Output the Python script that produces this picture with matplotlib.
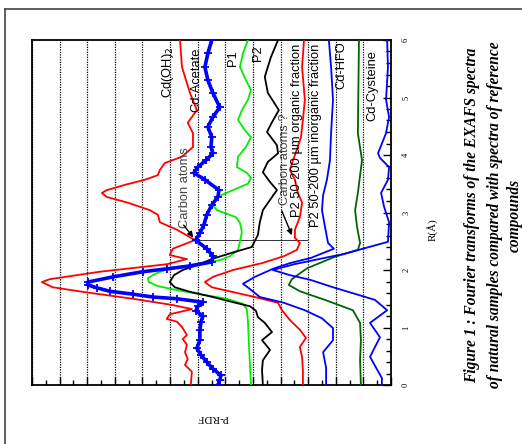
import matplotlib
matplotlib.use("Agg")
import matplotlib.pyplot as plt
from matplotlib.lines import Line2D

# Pseudo radial distribution functions (P-RDF) versus distance R (Å),
# each curve already shifted by its stacking offset.
r_cdoh2 = [6.00, 5.53, 5.08, 4.78, 4.66, 4.56, 4.38, 4.14, 3.97, 3.86, 3.74, 3.65, 3.57, 3.48,
           3.39, 3.34, 3.27, 3.17, 3.04, 2.96, 2.83, 2.70, 2.52, 2.37, 2.26, 2.19, 2.10, 1.97,
           1.84, 1.79, 1.70, 1.62, 1.50, 1.39, 1.32, 1.23, 1.15, 1.10, 1.01, 0.87, 0.80, 0.70,
           0.57, 0.45, 0.35, 0.23, 0.00]
p_cdoh2 = [7.64, 7.57, 7.28, 7.03, 7.21, 7.36, 7.17, 7.17, 7.57, 8.19, 8.37, 8.44, 8.91, 9.64,
           10.29, 10.47, 10.29, 9.53, 8.73, 8.44, 8.37, 7.75, 7.10, 7.90, 8.01, 7.39, 8.12, 10.54,
           12.36, 12.64, 12.25, 11.16, 9.35, 7.90, 7.21, 8.01, 8.12, 7.75, 7.57, 7.39, 7.54, 7.39,
           7.46, 7.36, 7.46, 7.21, 7.25]

r_acetate = [6.00, 5.77, 5.53, 5.30, 5.08, 4.83, 4.66, 4.49, 4.31, 4.14, 4.03, 3.91, 3.79, 3.69,
             3.57, 3.39, 3.27, 3.13, 2.96, 2.78, 2.64, 2.52, 2.37, 2.24, 2.14, 2.07, 2.02, 1.97,
             1.88, 1.79, 1.74, 1.69, 1.63, 1.58, 1.53, 1.50, 1.44, 1.37, 1.29, 1.20, 1.10, 0.96,
             0.78, 0.64, 0.52, 0.40, 0.28, 0.17, 0.09, 0.00]
p_acetate = [6.49, 6.63, 6.74, 6.63, 6.45, 6.20, 6.45, 6.63, 6.49, 6.52, 6.45, 6.70, 6.99, 7.14,
             6.74, 6.23, 6.27, 6.49, 6.67, 6.78, 6.92, 7.07, 6.67, 6.45, 6.49, 7.28, 8.12, 8.99,
             10.07, 10.98, 10.98, 10.65, 10.18, 9.35, 8.62, 7.75, 6.81, 6.99, 7.07, 6.81, 6.88, 6.92,
             6.92, 7.03, 6.88, 6.67, 6.45, 6.16, 6.20, 6.27]

r_p1 = [6.00, 5.77, 5.53, 5.30, 5.13, 4.96, 4.78, 4.61, 4.43, 4.31, 4.14, 3.97, 3.79, 3.69,
        3.60, 3.50, 3.39, 3.27, 3.15, 3.04, 2.92, 2.82, 2.66, 2.49, 2.35, 2.24, 2.17, 2.12,
        2.05, 2.00, 1.93, 1.86, 1.79, 1.72, 1.65, 1.58, 1.50, 1.41, 1.32, 1.10, 0.66, 0.00]
p_p1 = [5.18, 5.36, 5.47, 5.25, 5.07, 5.18, 5.40, 5.54, 5.29, 5.07, 5.25, 5.54, 5.58, 5.22,
        5.07, 5.18, 5.72, 6.30, 6.49, 6.30, 5.62, 5.47, 5.40, 5.47, 5.54, 5.83, 6.20, 6.92,
        7.64, 8.19, 8.55, 8.80, 8.77, 8.44, 7.75, 6.92, 5.94, 5.36, 5.22, 5.18, 5.14, 5.07]

r_p2 = [6.00, 5.70, 5.36, 5.08, 4.78, 4.57, 4.40, 4.17, 4.03, 3.88, 3.70, 3.53, 3.39, 3.22,
        3.04, 2.83, 2.61, 2.40, 2.30, 2.19, 2.09, 2.00, 1.91, 1.79, 1.70, 1.62, 1.53, 1.44,
        1.37, 1.29, 1.18, 1.08, 0.92, 0.78, 0.61, 0.43, 0.26, 0.00]
p_p2 = [4.09, 4.35, 4.57, 4.46, 4.06, 4.31, 4.49, 4.13, 4.09, 4.46, 4.64, 4.38, 4.13, 4.38,
        4.64, 4.75, 4.82, 5.04, 5.76, 6.49, 6.99, 7.54, 7.86, 8.01, 7.83, 7.28, 6.45, 5.72,
        5.11, 4.89, 4.82, 4.57, 4.31, 4.67, 4.38, 4.64, 4.67, 4.64]

r_organic = [6.00, 5.53, 4.96, 4.61, 4.31, 4.09, 3.91, 3.74, 3.57, 3.34, 3.17, 2.92, 2.70, 2.56,
             2.47, 2.35, 2.24, 2.12, 2.00, 1.88, 1.79, 1.70, 1.62, 1.53, 1.43, 1.30, 1.13, 0.96,
             0.82, 0.66, 0.49, 0.26, 0.00]
p_organic = [3.15, 3.22, 3.12, 3.19, 3.26, 3.41, 3.55, 3.66, 3.48, 3.37, 3.22, 3.30, 3.48, 3.48,
             3.30, 3.41, 3.88, 4.67, 5.72, 6.45, 6.74, 6.49, 5.76, 4.93, 4.09, 3.95, 3.66, 3.30,
             3.08, 3.30, 3.22, 3.19, 3.19]

r_inorganic = [6.00, 5.53, 4.96, 4.38, 3.91, 3.57, 3.30, 3.04, 2.75, 2.47, 2.37, 2.21, 2.12, 2.02,
               1.88, 1.76, 1.67, 1.53, 1.43, 1.30, 1.16, 0.99, 0.78, 0.57, 0.30, 0.00]
p_inorganic = [2.25, 2.17, 2.10, 2.17, 2.21, 2.32, 2.46, 2.50, 2.39, 2.28, 2.07, 2.90, 3.66, 4.28,
               4.93, 5.36, 5.11, 4.75, 3.88, 3.12, 2.50, 2.10, 2.10, 2.46, 2.35, 2.35]

r_hfo = [6.00, 4.38, 3.91, 3.34, 3.04, 2.75, 2.47, 2.35, 2.23, 2.03, 1.84, 1.74, 1.63, 1.48,
         1.30, 1.08, 0.78, 0.43, 0.00]
p_hfo = [1.16, 1.20, 1.05, 1.20, 1.30, 1.23, 1.12, 1.20, 2.03, 3.04, 3.59, 3.70, 3.30, 2.39,
         1.38, 1.12, 1.09, 1.12, 1.09]

r_cysteine = [6.00, 5.53, 4.96, 4.66, 4.38, 4.03, 3.95, 3.79, 3.57, 3.34, 3.10, 2.83, 2.49, 2.28,
              2.10, 2.00, 1.91, 1.83, 1.70, 1.48, 1.30, 1.08, 0.83, 0.49, 0.12, 0.00]
p_cysteine = [0.14, 0.11, 0.18, 0.07, 0.18, 0.47, 0.40, 0.07, 0.11, 0.36, 0.25, 0.07, 0.11, 1.70,
              3.51, 4.28, 3.66, 2.93, 2.10, 0.58, 0.14, 0.76, 0.40, 0.76, 0.33, 0.33]

r_ticks = [0, 1, 2, 3, 4, 5, 6]
r_tick_labels = ["0", "1", "2", "3", "4", "5", "6"]

caption_lines = [
    "Figure 1 : Fourier transforms of the EXAFS spectra",
    "of natural samples compared with spectra of reference",
    "compounds",
]

SANS = ["Liberation Sans", "DejaVu Sans"]
SERIF = ["Liberation Serif", "DejaVu Serif"]

fig = plt.figure(figsize=(5.22, 4.44), dpi=100)
W, H = 522, 444
ax = fig.add_axes([32 / W, 1 - 385 / H, (391 - 32) / W, (385 - 40) / H])

# the R axis runs vertically, P-RDF grows to the left
ax.set_ylim(0, 6)
ax.set_xlim(13, 0)

lw = 1.3
ax.plot(p_cdoh2, r_cdoh2, color="#ff0000", lw=lw, zorder=3)
ax.plot(p_acetate, r_acetate, color="#0000ff", lw=2.6, marker="+", ms=5.5, mew=1.3, zorder=4)
ax.plot(p_p1, r_p1, color="#00ee00", lw=lw, zorder=3)
ax.plot(p_p2, r_p2, color="black", lw=lw, zorder=3)
ax.plot(p_organic, r_organic, color="#ff0000", lw=lw, zorder=3)
ax.plot(p_inorganic, r_inorganic, color="#0000ff", lw=lw, zorder=3)
ax.plot(p_hfo, r_hfo, color="#006400", lw=lw, zorder=3)
ax.plot(p_cysteine, r_cysteine, color="#0000ff", lw=lw, zorder=3)

# marker line through the carbon shell position
ax.plot([7.10, 3.04], [2.53, 2.53], color="#333333", lw=0.7, zorder=2)

# P-RDF axis: gridlines and ticks, no labels
ax.set_xticks(range(0, 14))
ax.set_xticks([i + 0.5 for i in range(13)], minor=True)
ax.tick_params(axis="x", which="both", direction="in", bottom=True, top=False,
               labelbottom=False)
ax.tick_params(axis="x", which="major", length=6, width=1)
ax.tick_params(axis="x", which="minor", length=3.5, width=1)
ax.grid(axis="x", which="major", color="black", lw=0.9, linestyle=(0, (1, 1)), zorder=1)

# R axis on the right side
ax.yaxis.tick_right()
ax.set_yticks(r_ticks)
ax.set_yticklabels(r_tick_labels, rotation=90, va="center", family=SERIF, fontsize=6)
ax.set_yticks([i * 0.2 for i in range(31)], minor=True)
ax.tick_params(axis="y", which="both", direction="in", left=False, right=True, pad=8)
ax.tick_params(axis="y", which="major", length=6, width=1)
ax.tick_params(axis="y", which="minor", length=3.5, width=1)

for s in ax.spines.values():
    s.set_linewidth(1.3)

# curve labels
fs = 9.3
label_kw = dict(rotation=90, ha="center", va="top", fontsize=fs, family=SANS, zorder=5)
ax.text(8.08, 5.88, "Cd(OH)$_2$", **label_kw)
ax.text(7.03, 5.86, "Cd-Acetate", **label_kw)
ax.text(5.72, 5.83, "P1", **label_kw)
ax.text(4.82, 5.91, "P2", **label_kw)
ax.text(3.41, 5.93, "P2 50-200 µm organic fraction", **label_kw)
ax.text(2.72, 5.93, "P2 50-200 µm inorganic fraction", **label_kw)
ax.text(1.78, 5.97, "Cd-HFO", **label_kw)
ax.text(0.69, 5.83, "Cd-Cysteine", **label_kw)

ax.text(7.46, 2.73, "Carbon atoms", rotation=90, ha="center", va="bottom",
        fontsize=fs, family=SANS, color="#444444", zorder=5)
ax.text(3.84, 3.13, "Carbon atoms ?", rotation=90, ha="center", va="bottom",
        fontsize=fs, family=SANS, color="#444444", zorder=5)
arrow_kw = dict(arrowstyle="-|>", color="black", lw=1.0, mutation_scale=8)
ax.annotate("", xy=(7.10, 2.53), xytext=(7.57, 2.82), arrowprops=arrow_kw, zorder=6)
ax.annotate("", xy=(3.55, 2.56), xytext=(3.99, 3.07), arrowprops=arrow_kw, zorder=6)

# axis titles
ax.text(1.115, 2.70 / 6, "R(Å)", transform=ax.transAxes, rotation=90, ha="center",
        va="center", family=SERIF, fontsize=8)
ax.text(0.504, -0.095, "P-RDF", transform=ax.transAxes, rotation=180, ha="center",
        va="center", family=SERIF, fontsize=8)

# caption
cap_x = [472, 495, 515]
for x, line in zip(cap_x, caption_lines):
    fig.text(x / W, 1 - 215 / H, line, rotation=90, ha="center", va="center",
             family=SERIF, fontsize=11.2, fontweight="bold", style="italic")

# page frame
fig.add_artist(Line2D([5 / W, 5 / W], [0, 1 - 9 / H], transform=fig.transFigure,
                      color="#444444", lw=1.2))
fig.add_artist(Line2D([5 / W, 1], [1 - 9 / H, 1 - 9 / H], transform=fig.transFigure,
                      color="#444444", lw=1.2))

fig.savefig("out.png", dpi=100)
